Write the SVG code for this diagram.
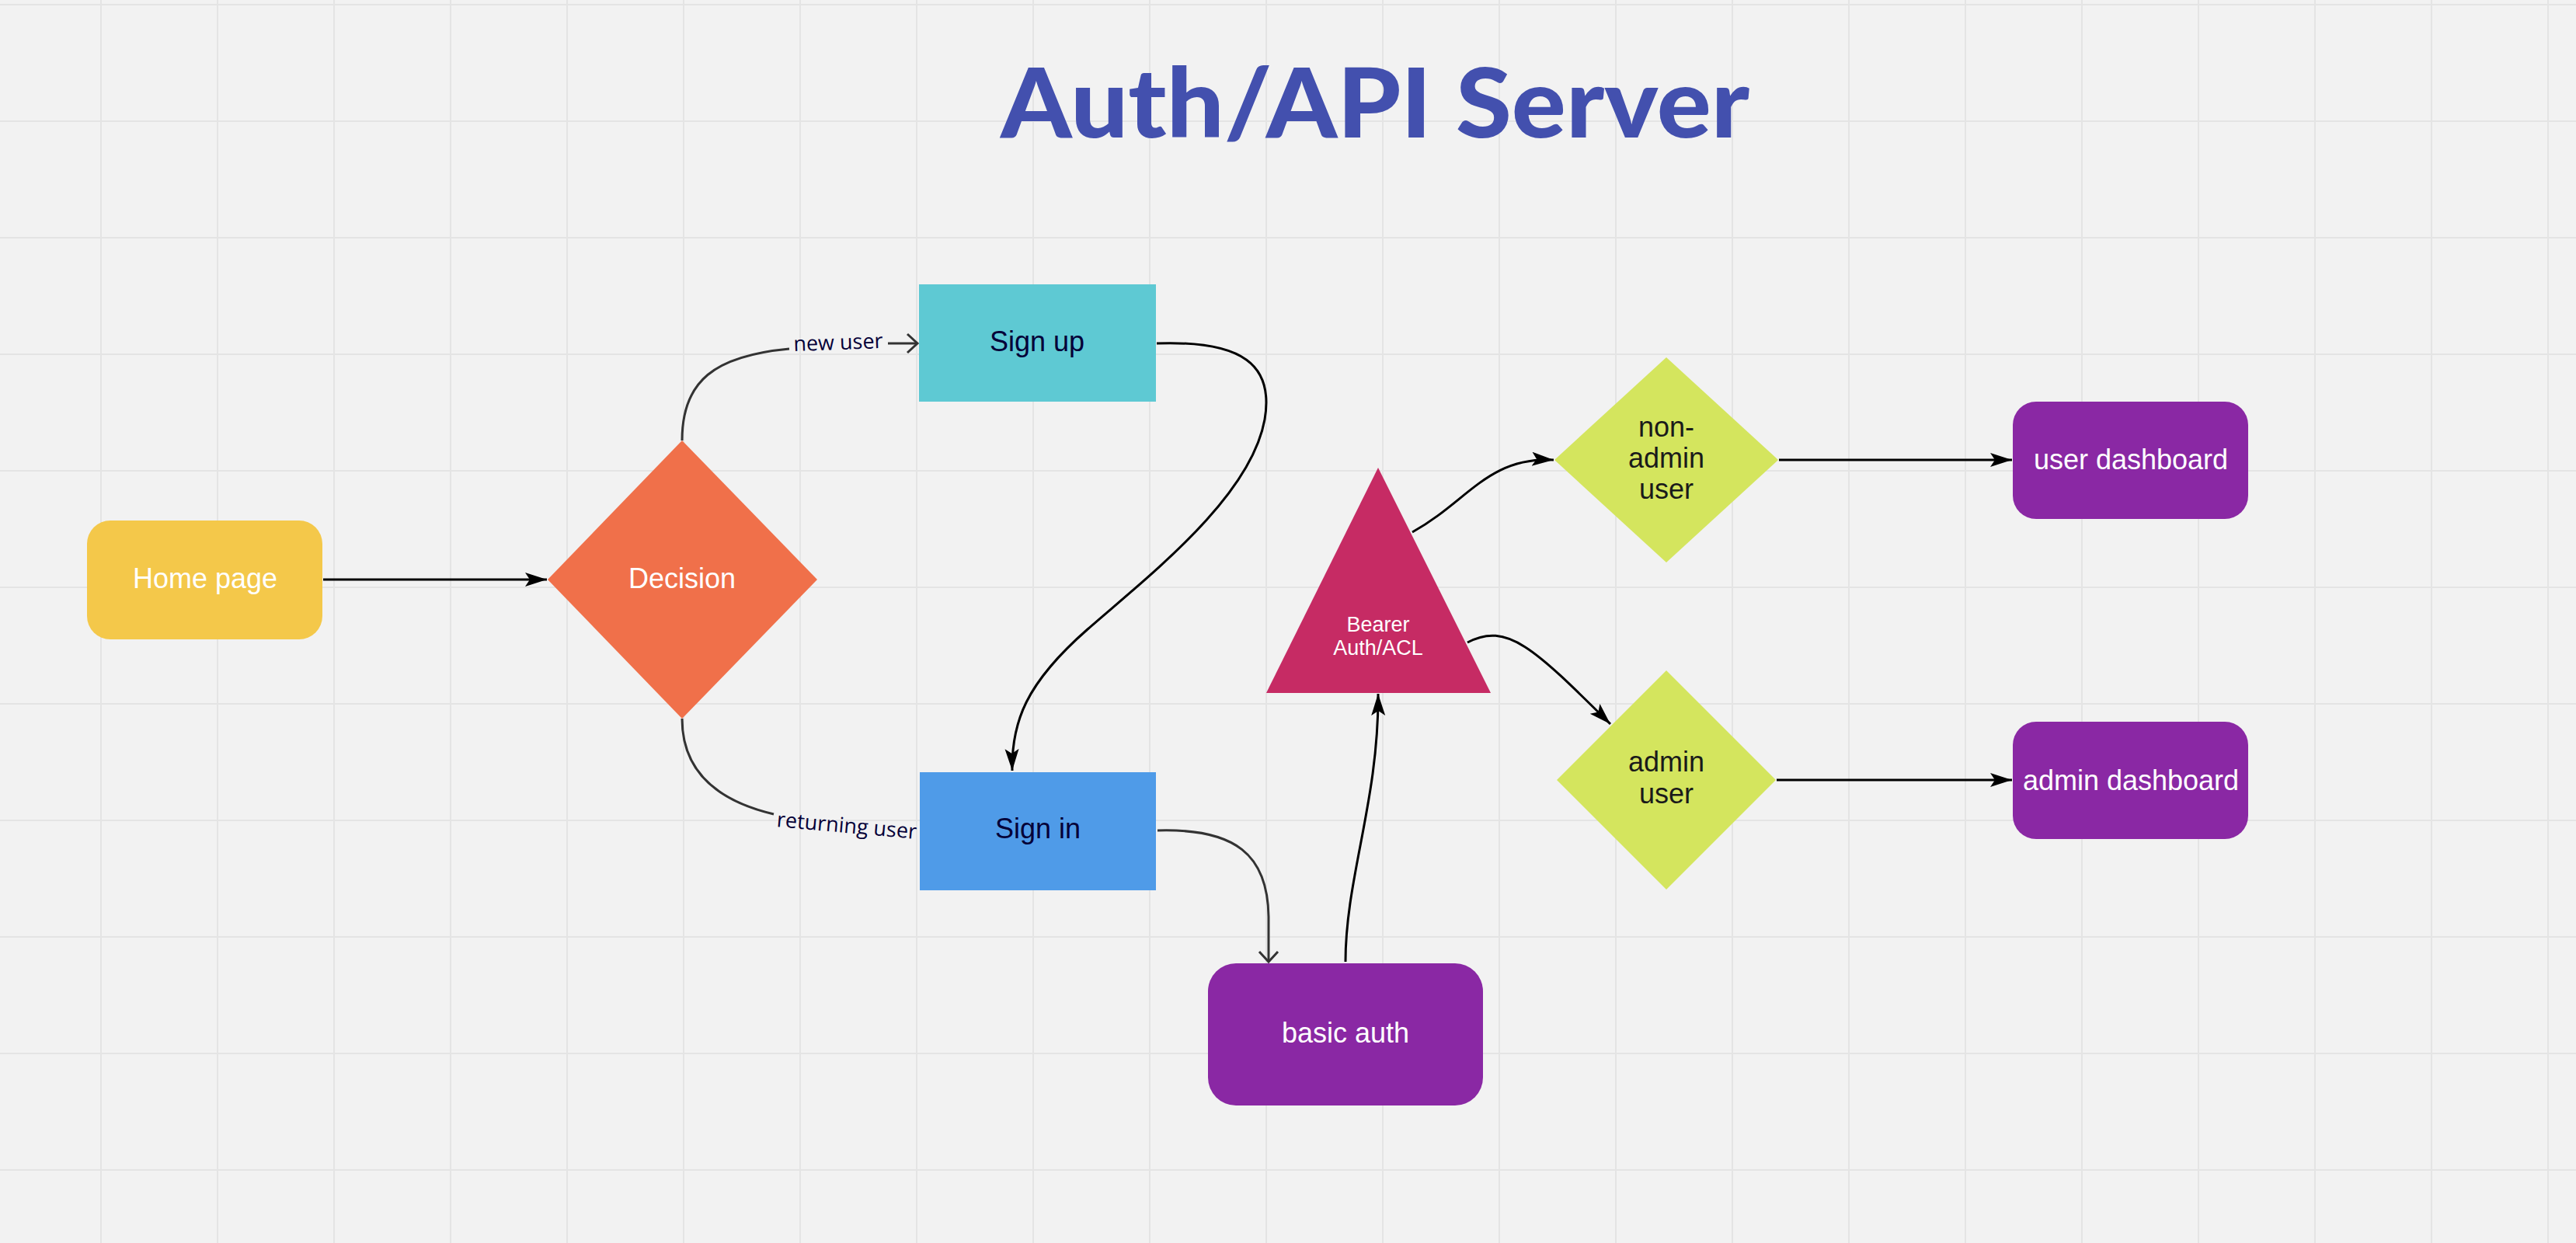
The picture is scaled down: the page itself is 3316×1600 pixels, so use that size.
<svg xmlns="http://www.w3.org/2000/svg" width="3316" height="1600" viewBox="0 0 3316 1600">
<style>
.lbl{font-family:"Liberation Sans",Arial,sans-serif;font-size:36px;text-anchor:middle}
.sm{font-size:27px}
.w{fill:#ffffff}
.d{fill:#050038}
.k{fill:#1a1a1a}
.edge{font-family:"Open Sans","Liberation Sans",sans-serif;font-size:27px;fill:#050038;text-anchor:middle}
.c-gray{fill:none;stroke:#333333;stroke-width:3}
.c-black{fill:none;stroke:#000000;stroke-width:3}
</style>
<defs>
<marker id="arrowFill" markerUnits="userSpaceOnUse" markerWidth="30" markerHeight="20" refX="28" refY="9" orient="auto">
<path d="M0,0 L28,9 L0,18 L6,9 z" fill="#000000"/>
</marker>
<marker id="arrowOpen" markerUnits="userSpaceOnUse" markerWidth="22" markerHeight="30" refX="16" refY="14" orient="auto">
<path d="M3,2 L16,14 L3,26" fill="none" stroke="#333333" stroke-width="3"/>
</marker>
</defs>
<rect width="3316" height="1600" fill="#f2f2f2"/>
<path d="M130,0V1600M280,0V1600M430,0V1600M580,0V1600M730,0V1600M880,0V1600M1030,0V1600M1180,0V1600M1330,0V1600M1480,0V1600M1630,0V1600M1780,0V1600M1930,0V1600M2080,0V1600M2230,0V1600M2380,0V1600M2530,0V1600M2680,0V1600M2830,0V1600M2980,0V1600M3130,0V1600M3280,0V1600M0,6H3316M0,156H3316M0,306H3316M0,456H3316M0,606H3316M0,756H3316M0,906H3316M0,1056H3316M0,1206H3316M0,1356H3316M0,1506H3316" stroke="#e4e4e4" stroke-width="2" fill="none"/>

<text x="1288" y="177" font-family="Lato,'Open Sans','Liberation Sans',sans-serif" font-weight="900" font-size="124" fill="#4350AE" textLength="964" lengthAdjust="spacingAndGlyphs">Auth/API Server</text>

<g id="connectors">
<path class="c-black" d="M416,746 L704,746" marker-end="url(#arrowFill)"/>
<path class="c-gray" d="M878,567 C878,490 920,458 1016,449"/>
<path class="c-gray" d="M1143,442 L1181,442" marker-end="url(#arrowOpen)"/>
<text class="edge" x="1079" y="450" transform="rotate(-2 1079 442)">new user</text>
<path class="c-gray" d="M878,925 C878,990 920,1030 996,1048"/>
<text class="edge" x="1090" y="1072" transform="rotate(5 1090 1064)">returning user</text>
<path class="c-black" d="M1489,442 C1600,438 1640,470 1628,540 C1610,640 1480,740 1400,810 C1320,880 1302,930 1303,992" marker-end="url(#arrowFill)"/>
<path class="c-gray" d="M1490,1069 C1590,1066 1632,1100 1633,1180 L1633,1238" marker-end="url(#arrowOpen)"/>
<path class="c-black" d="M1732,1238 C1732,1130 1775,1030 1774,893" marker-end="url(#arrowFill)"/>
<path class="c-black" d="M1818,685 C1890,645 1915,588 2000,592" marker-end="url(#arrowFill)"/>
<path class="c-black" d="M1889,827 C1940,800 1975,835 2073,932" marker-end="url(#arrowFill)"/>
<path class="c-black" d="M2290,592 L2590,592" marker-end="url(#arrowFill)"/>
<path class="c-black" d="M2287,1004 L2590,1004" marker-end="url(#arrowFill)"/>
</g>

<g id="home-page">
<rect x="112" y="670" width="303" height="153" rx="30" ry="30" fill="#F4C84A"/>
<text class="lbl w" x="264" y="757">Home page</text>
</g>

<g id="decision">
<polygon points="878,567 1052,746 878,925 705,746" fill="#F0704A"/>
<text class="lbl w" x="878" y="757">Decision</text>
</g>

<g id="sign-up">
<rect x="1183" y="366" width="305" height="151" fill="#5EC9D3"/>
<text class="lbl d" x="1335" y="452">Sign up</text>
</g>

<g id="sign-in">
<rect x="1184" y="994" width="304" height="152" fill="#4F9BE8"/>
<text class="lbl d" x="1336" y="1079">Sign in</text>
</g>

<g id="basic-auth">
<rect x="1555" y="1240" width="354" height="183" rx="36" ry="36" fill="#8A28A4"/>
<text class="lbl w" x="1732" y="1342">basic auth</text>
</g>

<g id="bearer-auth-acl">
<polygon points="1774,602 1919,892 1630,892" fill="#C62B64"/>
<text class="lbl sm w" x="1774" y="813">Bearer</text>
<text class="lbl sm w" x="1774" y="843">Auth/ACL</text>
</g>

<g id="non-admin-user">
<polygon points="2145,460 2289,592 2145,724 2001,592" fill="#D4E55E"/>
<text class="lbl k" x="2145" y="562">non-</text>
<text class="lbl k" x="2145" y="602">admin</text>
<text class="lbl k" x="2145" y="642">user</text>
</g>

<g id="admin-user">
<polygon points="2145,863 2286,1004 2145,1145 2004,1004" fill="#D4E55E"/>
<text class="lbl k" x="2145" y="993">admin</text>
<text class="lbl k" x="2145" y="1034">user</text>
</g>

<g id="user-dashboard">
<rect x="2591" y="517" width="303" height="151" rx="30" ry="30" fill="#8A28A4"/>
<text class="lbl w" x="2743" y="604">user dashboard</text>
</g>

<g id="admin-dashboard">
<rect x="2591" y="929" width="303" height="151" rx="30" ry="30" fill="#8A28A4"/>
<text class="lbl w" x="2743" y="1017">admin dashboard</text>
</g>
</svg>
